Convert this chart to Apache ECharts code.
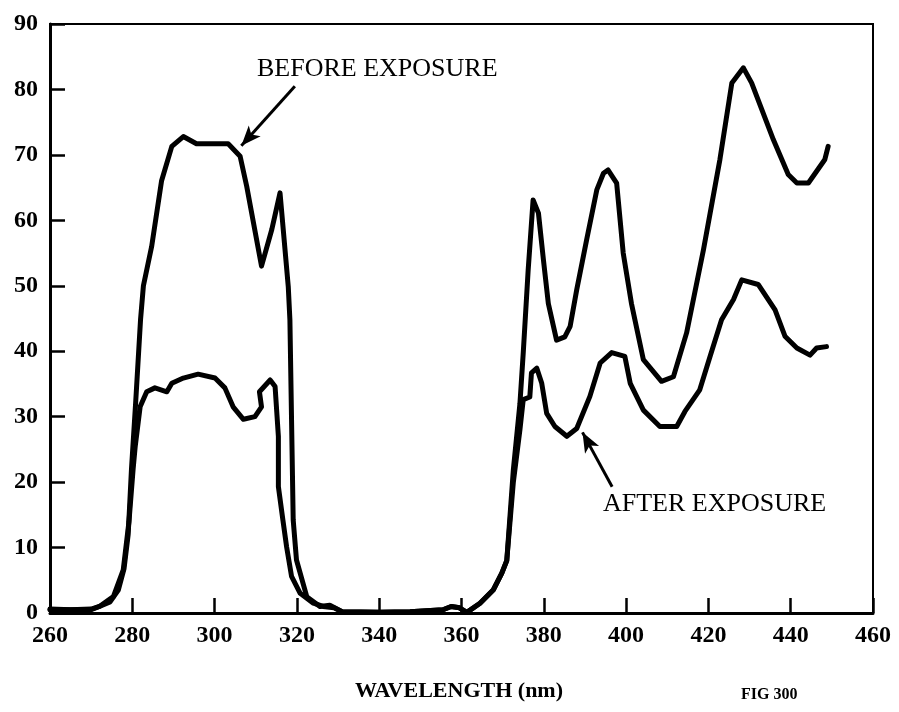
<!DOCTYPE html>
<html>
<head>
<meta charset="utf-8">
<script src="https://cdn.jsdelivr.net/npm/echarts@6/dist/echarts.min.js"></script>
<style>
    html, body { margin: 0; padding: 0; background: #fff; }
    #chart { width: 899px; height: 712px; }
</style>
</head>
<body>
<div id="chart"></div>
<script>
// wavelength (nm) / value pairs
var beforeX = [260, 265, 270, 272, 274.6, 276.6, 278, 279, 279.8, 280.8, 282, 282.7, 284.7, 287.1, 289.6, 292.4, 295.6, 303.3, 306.2, 307.8, 311.4, 313.9, 315.9, 317.9, 318.3, 318.7, 319.1, 319.9, 322.4, 325.6, 328, 331, 340, 347.5, 355.5, 357.5, 359.5, 361.3, 364.5, 367.7, 369.8, 371, 372.6, 374.2, 375, 376.2, 377.4, 378.7, 379.9, 381.1, 383.1, 385.1, 386.4, 388, 390.4, 392.9, 394.5, 395.6, 397.7, 399.3, 401.3, 404.2, 408.6, 411.5, 414.7, 418.8, 422.8, 425.7, 428.5, 430.5, 435.8, 439.4, 441.5, 444.3, 448.3, 449.1];
var beforeY = [0.6, 0.5, 0.6, 1.0, 1.7, 3.5, 6.8, 12, 22, 32, 44.8, 50, 56, 66, 71.3, 72.8, 71.7, 71.7, 69.8, 65.2, 53, 58.6, 64.2, 49.9, 44.8, 29.5, 14.2, 8.1, 2.5, 1.0, 1.2, 0.2, 0.1, 0.2, 0.5, 1.0, 0.8, 0.1, 1.5, 3.5, 6.1, 8, 21.9, 32, 39.7, 52.4, 63.1, 61.1, 54, 47.3, 41.7, 42.2, 43.8, 49.4, 57, 64.7, 67.2, 67.7, 65.7, 55, 47.3, 38.7, 35.4, 36.1, 42.8, 55.5, 69.3, 81, 83.3, 81, 72.3, 67, 65.7, 65.7, 69.3, 71.3];

var afterX = [260, 270, 272, 275.4, 277.8, 279.2, 280.2, 280.7, 281.9, 283.5, 285.5, 288.4, 289.6, 292.4, 296, 300.1, 302.5, 304.5, 307, 309.8, 311.4, 310.9, 313.5, 314.7, 315.5, 315.5, 316.6, 317.5, 318.7, 320.8, 324, 326.4, 329, 331, 340, 347.5, 355.5, 357.5, 359.5, 361.3, 364.5, 367.7, 369.8, 371, 372.6, 374.2, 375, 376.6, 377, 378.3, 379.5, 380.7, 382.7, 385.6, 388, 391.2, 393.7, 396.5, 399.7, 401, 404.2, 408.2, 412.3, 414.3, 417.9, 420.4, 423.2, 426.1, 428.1, 432.1, 436.2, 438.6, 441.5, 444.7, 446.3, 448.7];
var afterY = [0.5, 0.5, 1, 2.5, 6.6, 14, 22, 25.4, 31.5, 33.8, 34.4, 33.8, 35.1, 35.9, 36.5, 35.9, 34.4, 31.5, 29.6, 30, 31.5, 33.8, 35.6, 34.6, 27, 19.3, 14.2, 10.1, 5.6, 3, 1.5, 1, 0.8, 0.2, 0.1, 0.2, 0.5, 1.0, 0.8, 0.1, 1.5, 3.5, 6.1, 8, 20, 28, 32.6, 33, 36.7, 37.4, 35.1, 30.5, 28.5, 27, 28.2, 33.1, 38.2, 39.8, 39.2, 35.1, 31, 28.5, 28.5, 30.8, 34.1, 39.2, 44.8, 47.9, 50.9, 50.2, 46.3, 42.3, 40.5, 39.4, 40.5, 40.7];

var xTicks = [260, 460, 20];   // min, max, step
var yTicks = [0, 90, 10];

var pairs = function (xs, ys) {
    var out = [];
    for (var i = 0; i < xs.length; i++) out.push([xs[i], ys[i]]);
    return out;
};

var serif = "'Liberation Serif', 'DejaVu Serif', serif";
var curveStyle = { color: '#000', width: 5, cap: 'round', join: 'round' };

var myChart = echarts.init(document.getElementById('chart'), null, { renderer: 'canvas' });

myChart.setOption({
    animation: false,
    backgroundColor: '#fff',
    grid: {
        left: 50, right: 26, top: 24, bottom: 99,
        show: true, borderColor: '#000', borderWidth: 2
    },
    xAxis: {
        type: 'value',
        min: xTicks[0], max: xTicks[1], interval: xTicks[2],
        axisLine: { lineStyle: { color: '#000', width: 3 } },
        axisTick: { inside: true, length: 15, lineStyle: { color: '#000', width: 2.5 } },
        axisLabel: { color: '#000', fontFamily: serif, fontWeight: 'bold', fontSize: 24, margin: 11 },
        splitLine: { show: false }
    },
    yAxis: {
        type: 'value',
        min: yTicks[0], max: yTicks[1], interval: yTicks[2],
        axisLine: { show: true, lineStyle: { color: '#000', width: 3 } },
        axisTick: { show: true, inside: true, length: 15, lineStyle: { color: '#000', width: 2.5 } },
        axisLabel: { color: '#000', fontFamily: serif, fontWeight: 'bold', fontSize: 24, margin: 12 },
        splitLine: { show: false }
    },
    series: [{
        name: 'BEFORE EXPOSURE',
        type: 'line',
        showSymbol: false,
        data: pairs(beforeX, beforeY),
        lineStyle: curveStyle,
        markLine: {
            silent: true,
            symbol: ['none', 'arrow'],
            symbolSize: [12, 20],
            label: { show: false },
            lineStyle: { color: '#000', width: 3, type: 'solid' },
            data: [[{ coord: [319.5, 80.5] }, { coord: [306.5, 71.4] }]]
        }
    }, {
        name: 'AFTER EXPOSURE',
        type: 'line',
        showSymbol: false,
        data: pairs(afterX, afterY),
        lineStyle: curveStyle,
        markLine: {
            silent: true,
            symbol: ['none', 'arrow'],
            symbolSize: [12, 20],
            label: { show: false },
            lineStyle: { color: '#000', width: 3, type: 'solid' },
            data: [[{ coord: [396.6, 19.3] }, { coord: [389.4, 27.6] }]]
        }
    }],
    graphic: [{
        type: 'text', left: 257, top: 56,
        style: { text: 'BEFORE EXPOSURE', font: '26px ' + serif, fill: '#000' }
    }, {
        type: 'text', left: 603, top: 491,
        style: { text: 'AFTER EXPOSURE', font: '26px ' + serif, fill: '#000' }
    }, {
        type: 'text', left: 355, top: 680,
        style: { text: 'WAVELENGTH (nm)', font: 'bold 22px ' + serif, fill: '#000' }
    }, {
        type: 'text', left: 741, top: 687,
        style: { text: 'FIG 300', font: 'bold 16px ' + serif, fill: '#000' }
    }]
});
</script>
</body>
</html>
